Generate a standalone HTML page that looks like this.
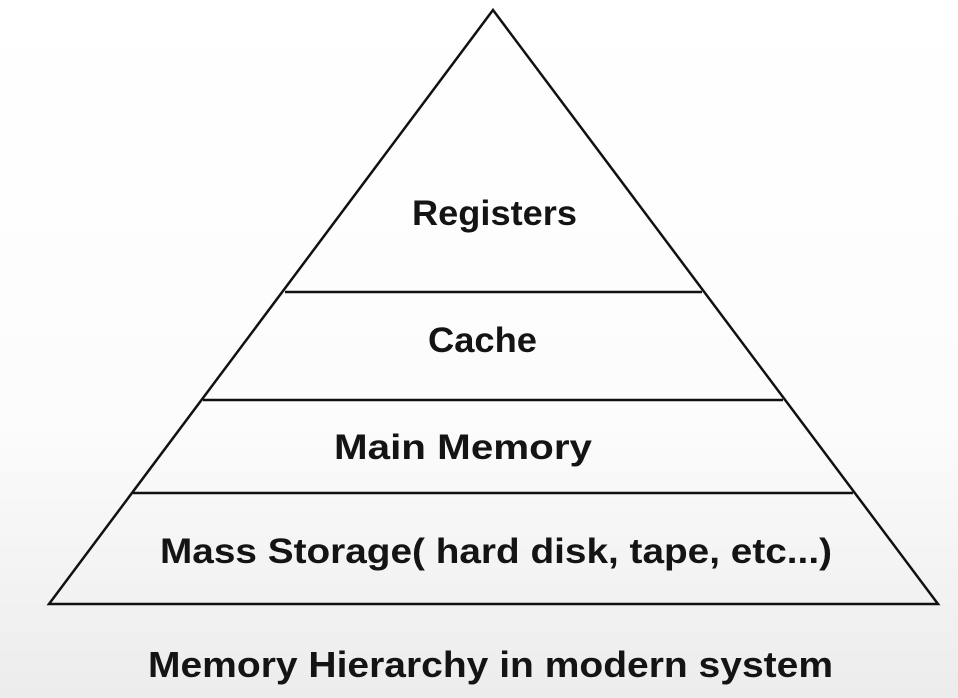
<!DOCTYPE html>
<html><head><meta charset="utf-8"><style>
html,body{margin:0;padding:0;width:958px;height:698px;overflow:hidden}
body{background:linear-gradient(#ffffff 0%,#fcfcfc 60%,#ececec 100%)}
text{font-family:"Liberation Sans","Noto Sans CJK KR",sans-serif;font-weight:bold;fill:#141414}
</style></head><body>
<svg width="958" height="698" viewBox="0 0 958 698" xmlns="http://www.w3.org/2000/svg">
<g stroke="#111" stroke-width="2.5" fill="none" stroke-linejoin="miter">
<polygon points="493,10 938,604 49,604"/>
<line x1="285" y1="292" x2="702" y2="292"/>
<line x1="203" y1="400" x2="783" y2="400"/>
<line x1="133" y1="493" x2="853" y2="493"/>
</g>
<text x="412" y="225" font-size="35" textLength="165" lengthAdjust="spacingAndGlyphs">Registers</text>
<text x="428" y="352" font-size="35" textLength="109" lengthAdjust="spacingAndGlyphs">Cache</text>
<text x="334" y="459" font-size="35" textLength="258" lengthAdjust="spacingAndGlyphs">Main Memory</text>
<text x="160" y="563" font-size="35" textLength="672" lengthAdjust="spacingAndGlyphs">Mass Storage( hard disk, tape, etc...)</text>
<text x="148" y="677" font-size="36" textLength="685" lengthAdjust="spacingAndGlyphs">Memory Hierarchy in modern system</text>
</svg>
</body></html>
